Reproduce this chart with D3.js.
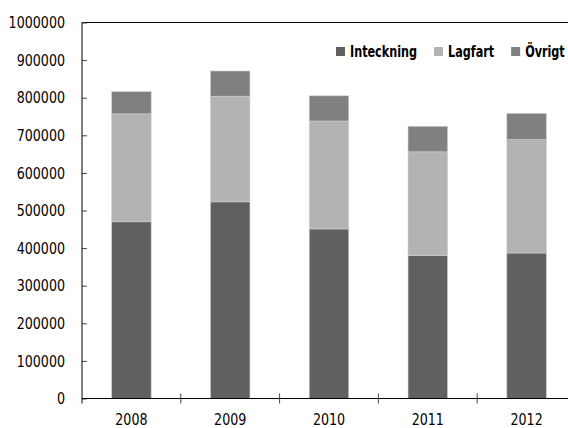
<!DOCTYPE html>
<html>
<head>
<meta charset="utf-8">
<script src="https://cdn.jsdelivr.net/npm/d3@7"></script>
<style>
	body { margin: 0; background: #fff; }
	text { font-family: "Liberation Sans Narrow", "DejaVu Sans Condensed", sans-serif; fill: #000; }
</style>
</head>
<body>
<script>

const years = ['2008', '2009', '2010', '2011', '2012'];
const inteckning = [470000, 523000, 451000, 380000, 387000];
const lagfart = [287000, 281000, 287000, 276000, 302000];
const ovrigt = [59000, 67000, 67000, 68000, 69500];
const seriesNames = ['Inteckning', 'Lagfart', 'Övrigt'];
const yTicks = [0, 100000, 200000, 300000, 400000, 500000, 600000, 700000, 800000, 900000, 1000000];

const colors = ['#606060', '#b3b3b3', '#808080'];

const width = 568;
const height = 428;
const plotLeft = 82;
const plotRight = 576;
const plotTop = 22.5;
const plotBottom = 398.5;

// the fonts are wider than the condensed face in the picture, so squeeze them
const axisSqueeze = 0.88;
const legendSqueeze = 0.78;

const table = years.map((y, i) => ({
	year: y,
	Inteckning: inteckning[i],
	Lagfart: lagfart[i],
	'Övrigt': ovrigt[i]
}));

const stacked = d3.stack().keys(seriesNames)(table);

const xScale = d3.scaleBand()
					.domain(years)
					.range([plotLeft, plotRight]);
const yScale = d3.scaleLinear()
					.domain([0, 1000000])
					.range([plotBottom, plotTop]);

const svg = d3.select('body')
				.append('svg')
				.attr('width', width)
				.attr('height', height);

const barW = xScale.bandwidth() * 0.4;

svg.selectAll('g.layer')
	.data(stacked)
	.enter()
	.append('g')
	.attr('class', 'layer')
	.attr('fill', (d, i) => colors[i])
	.selectAll('rect')
	.data(d => d)
	.enter()
	.append('rect')
	.attr('x', d => xScale(d.data.year) + (xScale.bandwidth() - barW) / 2)
	.attr('y', d => yScale(d[1]))
	.attr('width', barW)
	.attr('height', d => yScale(d[0]) - yScale(d[1]))
	.attr('stroke', '#d0d0d0')
	.attr('stroke-width', 0.6);

// top frame line
svg.append('line')
	.attr('x1', plotLeft).attr('x2', plotRight)
	.attr('y1', plotTop).attr('y2', plotTop)
	.attr('stroke', '#000');

// y axis
const yAxis = d3.axisLeft(yScale)
				.tickValues(yTicks)
				.tickFormat(d3.format('d'))
				.tickSizeInner(-5)
				.tickSizeOuter(0)
				.tickPadding(17);

svg.append('g')
	.attr('transform', 'translate(' + plotLeft + ',0)')
	.call(yAxis)
	.call(g => g.select('.domain').remove())
	.call(g => g.selectAll('.tick line').attr('stroke', '#444'))
	.call(g => g.selectAll('text')
		.attr('font-size', 16)
		.attr('x', 0)
		.attr('transform', 'translate(-17,0) scale(' + axisSqueeze + ',1)'));

svg.append('line')
	.attr('x1', plotLeft).attr('x2', plotLeft)
	.attr('y1', plotTop).attr('y2', plotBottom + 5)
	.attr('stroke', '#000');

// x axis
const xAxis = d3.axisBottom(xScale).tickSize(0).tickPadding(15);

svg.append('g')
	.attr('transform', 'translate(0,' + plotBottom + ')')
	.call(xAxis)
	.call(g => g.select('.domain').remove())
	.call(g => g.selectAll('text')
		.attr('font-size', 16)
		.attr('transform', 'scale(' + axisSqueeze + ',1)'));

svg.append('line')
	.attr('x1', plotLeft).attr('x2', plotRight)
	.attr('y1', plotBottom).attr('y2', plotBottom)
	.attr('stroke', '#000');

svg.selectAll('line.xtick')
	.data(years.slice(1))
	.enter()
	.append('line')
	.attr('class', 'xtick')
	.attr('x1', d => xScale(d)).attr('x2', d => xScale(d))
	.attr('y1', plotBottom - 5).attr('y2', plotBottom + 5)
	.attr('stroke', '#444');

// legend
const legend = svg.append('g').attr('transform', 'translate(336,47)');
let lx = 0;
seriesNames.forEach((name, i) => {
	legend.append('rect')
		.attr('x', lx).attr('y', 0)
		.attr('width', 9).attr('height', 9)
		.attr('fill', colors[i]);
	const t = legend.append('text')
		.attr('transform', 'translate(' + (lx + 14) + ',10) scale(' + legendSqueeze + ',1)')
		.attr('font-size', 16)
		.attr('font-weight', 'bold')
		.text(name);
	lx += 14 + t.node().getComputedTextLength() * legendSqueeze + 17;
});

</script>
</body>
</html>
